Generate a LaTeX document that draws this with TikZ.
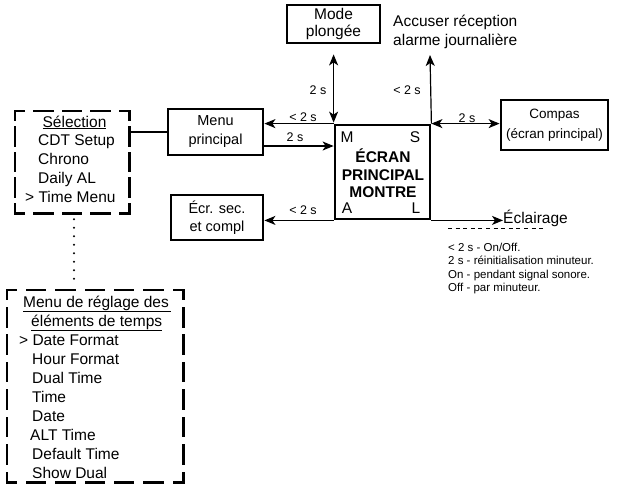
\documentclass[tikz,border=0pt]{standalone}
\usepackage{fontspec}
\setmainfont{Liberation Sans}
\usetikzlibrary{arrows.meta}
\newcommand\dside[3]{%
  \pgfmathsetmacro\dk{round((#3-28)/28)}%
  \pgfmathsetmacro\dg{(#3-18-18*\dk)/(\dk+1)}%
  \draw[line width=2.6pt,line cap=rect,dash pattern=on 18pt off \dg pt,dash phase=9pt] #1 -- #2;}
\begin{document}
\begin{tikzpicture}[x=1pt,y=-1pt,
  box/.style={draw,line width=2.8pt,inner sep=0pt,align=center},
  ln/.style={line width=1.2pt},
  tip/.tip={Stealth[length=11pt,width=9pt,inset=3pt]},
  arr/.style={ln,-tip},
  darr/.style={ln,tip-tip},
  lbl/.style={font=\fontsize{12.5}{14}\selectfont,inner sep=0pt,anchor=base},
  txt/.style={font=\fontsize{15.5}{19}\selectfont,inner sep=0pt,anchor=base west},
  key/.style={font=\fontsize{15.5}{18}\selectfont,inner sep=0pt,anchor=base},
  bold/.style={font=\fontsize{15.5}{18}\selectfont\bfseries,inner sep=0pt,anchor=base},
  note/.style={font=\fontsize{11.5}{13}\selectfont,inner sep=0pt,anchor=base west},
  ]
\useasboundingbox (0,0) rectangle (617,488);

% boxes
\node[box,minimum width=93pt,minimum height=38pt,font=\fontsize{15.5}{17}\selectfont] (mode) at (333.5,24) {Mode\\plongée};
\node[box,minimum width=95pt,minimum height=46pt,font=\fontsize{14.5}{19}\selectfont] (menu) at (215.5,132) {Menu\\principal};
\node[box,minimum width=92pt,minimum height=45pt,font=\fontsize{14.5}{18}\selectfont] (ecr) at (217,217.5) {Écr. sec.\\et compl};
\node[box,minimum width=95pt,minimum height=94pt] (main) at (382.5,172) {};
\node[box,minimum width=107pt,minimum height=50pt,font=\fontsize{13.5}{20}\selectfont] (compas) at (554.5,125) {Compas\\(écran principal)};

% main box text
\node[bold] (mt1) at (383,162.5) {ÉCRAN};
\node[bold] (mt2) at (383,180) {PRINCIPAL};
\node[bold] (mt3) at (383,197.5) {MONTRE};
\node[key] (kM) at (347,142.5) {M};
\node[key] (kS) at (415,142.5) {S};
\node[key] (kA) at (347,213.5) {A};
\node[key] (kL) at (416,213.5) {L};

% selection dashed menu
\node[minimum width=114pt,minimum height=102pt,inner sep=0pt] (sel) at (72,162) {};
\dside{(sel.north west)}{(sel.north east)}{114}
\dside{(sel.south west)}{(sel.south east)}{114}
\dside{(sel.north west)}{(sel.south west)}{102}
\dside{(sel.north east)}{(sel.south east)}{102}
\node[txt,anchor=base] (s0) at (74.5,127) {\underline{Sélection}};
\node[txt] (s1) at (38,145.75) {CDT Setup};
\node[txt] (s2) at (38,164.5) {Chrono};
\node[txt] (s3) at (38,183.25) {Daily AL};
\node[txt] (s4) at (25,202) {> Time Menu};

% time menu dashed
\node[minimum width=176pt,minimum height=192pt,inner sep=0pt] (tm) at (95,386) {};
\dside{(tm.north west)}{(tm.north east)}{176}
\dside{(tm.south west)}{(tm.south east)}{176}
\dside{(tm.north west)}{(tm.south west)}{192}
\dside{(tm.north east)}{(tm.south east)}{192}
\node[txt] (t0) at (23,307) {\underline{Menu de réglage des\,}};
\node[txt] (t1) at (31,326) {\underline{éléments de temps}};
\node[txt] (t2) at (19,345) {> Date Format};
\node[txt] (t3) at (32,364) {Hour Format};
\node[txt] (t4) at (32,383) {Dual Time};
\node[txt] (t5) at (32,402) {Time};
\node[txt] (t6) at (32,421) {Date};
\node[txt] (t7) at (30,440) {ALT Time};
\node[txt] (t8) at (32,459) {Default Time};
\node[txt] (t9) at (32,478) {Show Dual};

% dotted link
\draw[line width=2.4pt,line cap=round,dash pattern=on 0pt off 8.5pt]
  ([xshift=2pt,yshift=-6pt]sel.south) -- ([xshift=-21pt,yshift=6pt]tm.north);

% connectors
\draw[ln] (menu.west -| sel.east) -- (menu.west);
\draw[arr] (main.north west) -- (main.north west -| menu.east);
\coordinate (m2) at ([yshift=-14pt]menu.east);
\draw[arr] (m2) -- (m2 -| main.west);
\draw[darr,shorten <=10pt,shorten >=1pt] (main.north west |- mode.south) -- (main.north west);
\coordinate (acc) at (430,55);
\draw[arr] (main.north east) -- (acc);
\draw[darr] (main.north east) -- (main.north east -| compas.west);
\draw[arr] (main.south west) -- (main.south west -| ecr.east);
\node[txt] (ecl) at (503,223) {Éclairage};
\draw[arr] (main.south east) -- (main.south east -| ecl.west);

% accuser text
\node[txt] (acc1) at (393,26) {Accuser réception};
\node[txt] (acc2) at (393,45) {alarme journalière};

% labels
\node[lbl] (l1) at (318,94.5) {2 s};
\node[lbl] (l2) at (407,94.5) {< 2 s};
\node[lbl] (l3) at (303,121.5) {< 2 s};
\node[lbl] (l4) at (295,141.5) {2 s};
\node[lbl] (l5) at (467,122.5) {2 s};
\node[lbl] (l6) at (303,214.5) {< 2 s};

% notes
\draw[line width=0.9pt,dash pattern=on 4pt off 3.6pt] (448,228) -- (544,228);
\node[note] (n1) at (448,251) {< 2 s - On/Off.};
\node[note] (n2) at (448,264.5) {2 s - réinitialisation minuteur.};
\node[note] (n3) at (448,278) {On - pendant signal sonore.};
\node[note] (n4) at (448,291.5) {Off - par minuteur.};
\end{tikzpicture}
\end{document}
